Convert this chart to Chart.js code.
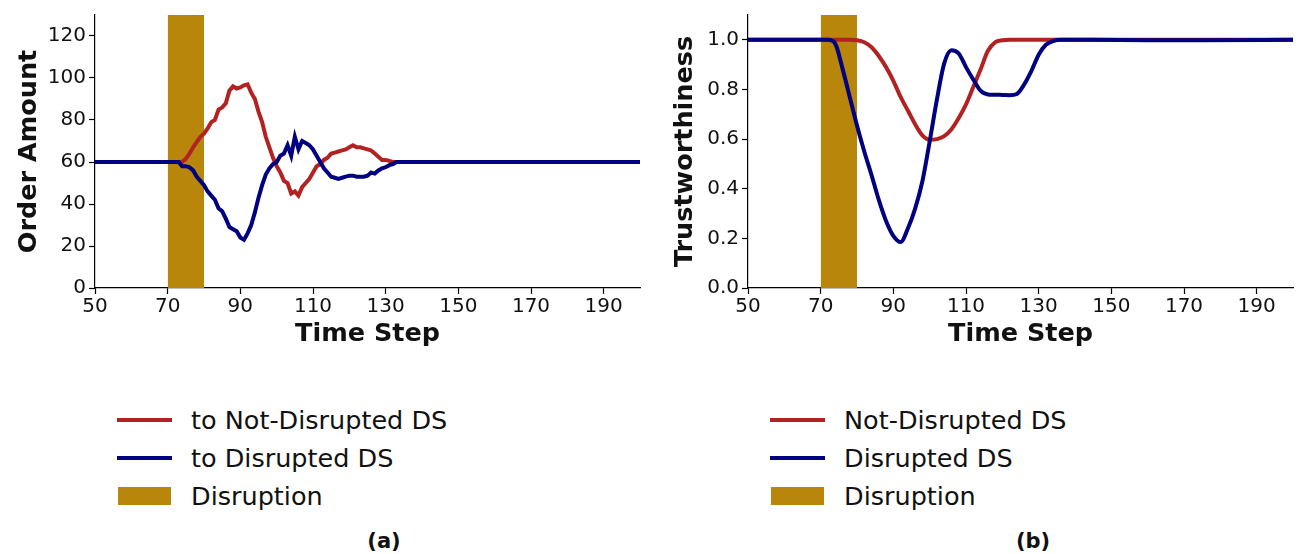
<!DOCTYPE html>
<html>
<head>
<meta charset="utf-8">
<script src="https://cdn.jsdelivr.net/npm/chart.js@4"></script>
<style>
  body { margin: 0; background: #fff; width: 1299px; height: 554px; position: relative; overflow: hidden; font-family: "DejaVu Sans", sans-serif; }
  .box { position: absolute; top: 0; height: 360px; }
  #boxA { left: 0; width: 650px; }
  #boxB { left: 650px; width: 649px; }
  .legend { position: absolute; top: 401px; font-size: 25.5px; color: #111; }
  .legend .row { height: 38px; display: flex; align-items: center; }
  .caption { position: absolute; top: 529px; font-weight: bold; font-size: 21px; transform: translateX(-50%); color: #111; }
</style>
</head>
<body>
<div class="box" id="boxA"><canvas id="chartA"></canvas></div>
<div class="box" id="boxB"><canvas id="chartB"></canvas></div>
<div class="legend" id="legendA" style="left:117px"></div>
<div class="legend" id="legendB" style="left:770px"></div>
<div class="caption" style="left:384px">(a)</div>
<div class="caption" style="left:1033px">(b)</div>
<script>
// (a) order amounts
const orderSteps = [50, 72, 73, 74, 75, 76, 77, 78, 79, 80, 81, 82, 83, 84, 85, 86, 87, 88, 89, 90, 91,
  92, 93, 94, 95, 96, 97, 98, 99, 100, 101, 102, 103, 104, 105, 106, 107, 108, 109, 110, 111,
  112, 113, 114, 115, 116, 117, 118, 119, 120, 121, 122, 123, 124, 125, 126, 127, 128, 129, 130, 131,
  132, 133, 134, 200];
const orderNotDisrupted = [60, 60, 60, 60, 61.5, 64, 67, 69.5, 72, 73.5, 76, 79, 80, 85, 86, 88, 94, 96, 95, 95.5, 96.5,
  97, 93, 90, 84, 79, 72, 67, 62, 58, 55, 51, 50, 45, 46, 44, 48, 50, 52, 55, 58,
  59, 61, 62, 64, 64.5, 65, 65.5, 66, 67, 68, 67, 67, 66.5, 66, 65.5, 64, 62.5, 61, 61, 60.5,
  60, 60, 60, 60];
const orderDisrupted = [60, 60, 60, 58, 58, 57.5, 56, 53, 51, 49, 46, 44, 42, 38, 36.5, 33, 29, 28, 27, 24, 23,
  26, 30, 36, 43, 49, 54, 57, 59, 60, 63, 64, 68, 63, 72, 66, 70, 69, 68, 66, 63,
  60, 57, 55, 53, 52.5, 52, 52.5, 53, 53.5, 53.5, 53, 53, 53, 53.5, 55, 54.5, 56, 57, 57.5, 58.5,
  59, 60, 60, 60];

// (b) trustworthiness
const trustSteps = [50, 72, 74, 76, 78, 80, 82, 84, 86, 88, 90, 92, 94, 96, 98, 100, 102, 104, 106, 108, 110,
  112, 114, 116, 118, 120, 122, 124, 126, 128, 130, 132, 134, 136, 138, 145, 160, 175, 200];
const trustNotDisrupted = [1, 1, 1, 1, 1, 0.998, 0.99, 0.97, 0.935, 0.89, 0.835, 0.77, 0.715, 0.66, 0.615, 0.597, 0.6, 0.612, 0.64, 0.685, 0.74,
  0.81, 0.88, 0.955, 0.99, 0.998, 1, 1, 1, 1, 1, 1, 1, 1, 1, 1, 1, 1, 1];
const trustDisrupted = [1, 1, 0.985, 0.885, 0.77, 0.655, 0.55, 0.455, 0.355, 0.27, 0.21, 0.185, 0.24, 0.32, 0.43, 0.59, 0.76, 0.905, 0.958, 0.945, 0.89,
  0.84, 0.795, 0.78, 0.779, 0.778, 0.777, 0.782, 0.82, 0.875, 0.94, 0.98, 0.995, 1, 1, 1, 0.998, 0.998, 1];

const disruption = [70, 80];
const xTicks = [50, 70, 90, 110, 130, 150, 170, 190];

const RED = "#b22222", BLUE = "#000080", GOLD = "#b8860b";

function pts(xs, ys) {
  return xs.map((x, i) => ({ x: x, y: ys[i] }));
}

function lineSet(label, xs, ys, color, order, smooth) {
  return {
    label: label,
    data: pts(xs, ys),
    borderColor: color,
    backgroundColor: color,
    borderWidth: 4,
    pointRadius: 0,
    tension: 0,
    cubicInterpolationMode: smooth ? "monotone" : "default",
    fill: false,
    order: order,
  };
}

function bandSet(top) {
  return {
    label: "Disruption",
    isBand: true,
    data: [{ x: disruption[0], y: top }, { x: disruption[1], y: top }],
    borderWidth: 0,
    borderColor: GOLD,
    backgroundColor: GOLD,
    pointRadius: 0,
    fill: "start",
    order: 5,
  };
}

function makeOptions(yMax, yStep, yTitle, yWidth, titlePad, padRight, fmt) {
  const axisGrid = { drawOnChartArea: false, drawTicks: true, tickLength: 6, color: "#000", tickWidth: 1.2 };
  return {
    responsive: true,
    maintainAspectRatio: false,
    animation: false,
    layout: { padding: { top: 15, right: padRight, left: 0, bottom: 0 } },
    plugins: { legend: { display: false }, tooltip: { enabled: false } },
    scales: {
      x: {
        type: "linear",
        min: 50,
        max: 200,
        afterFit: (s) => { s.height = 72; },
        afterBuildTicks: (s) => { s.ticks = xTicks.map((v) => ({ value: v })); },
        border: { color: "#000", width: 1.2 },
        grid: axisGrid,
        ticks: { color: "#111", font: { family: "DejaVu Sans", size: 20 }, padding: 1, maxRotation: 0 },
        title: { display: true, text: "Time Step", color: "#111", font: { family: "DejaVu Sans", size: 25.5, weight: "bold" }, padding: { top: 0, bottom: 10 } },
      },
      y: {
        min: 0,
        max: yMax,
        afterFit: (s) => { s.width = yWidth; },
        border: { color: "#000", width: 1.2 },
        grid: axisGrid,
        ticks: { stepSize: yStep, includeBounds: false, color: "#111", font: { family: "DejaVu Sans", size: 20 }, padding: 3, callback: fmt },
        title: { display: true, text: yTitle, color: "#111", font: { family: "DejaVu Sans", size: 25.5, weight: "bold" }, padding: { top: titlePad, bottom: 0 } },
      },
    },
  };
}

function buildLegend(chart, el) {
  // legend rows follow the order of datasets in the chart
  chart.data.datasets.forEach((ds) => {
    const row = document.createElement("div");
    row.className = "row";
    const sw = document.createElement("span");
    sw.style.display = "inline-block";
    if (ds.isBand) {
      sw.style.width = "53px";
      sw.style.height = "18px";
      sw.style.marginLeft = "1px";
      sw.style.marginRight = "20px";
      sw.style.background = ds.backgroundColor;
    } else {
      sw.style.width = "55px";
      sw.style.height = "4px";
      sw.style.marginRight = "19px";
      sw.style.background = ds.borderColor;
    }
    row.appendChild(sw);
    row.appendChild(document.createTextNode(ds.label));
    el.appendChild(row);
  });
}

const chartA = new Chart(document.getElementById("chartA"), {
  type: "line",
  data: {
    datasets: [
      lineSet("to Not-Disrupted DS", orderSteps, orderNotDisrupted, RED, 2, false),
      lineSet("to Disrupted DS", orderSteps, orderDisrupted, BLUE, 1, false),
      bandSet(130),
    ],
  },
  options: makeOptions(130, 20, "Order Amount", 95, 14, 10, (v) => v),
});

const chartB = new Chart(document.getElementById("chartB"), {
  type: "line",
  data: {
    datasets: [
      lineSet("Not-Disrupted DS", trustSteps, trustNotDisrupted, RED, 2, true),
      lineSet("Disrupted DS", trustSteps, trustDisrupted, BLUE, 1, true),
      bandSet(1.1),
    ],
  },
  options: makeOptions(1.1, 0.2, "Trustworthiness", 98, 20, 6, (v) => Number(v).toFixed(1)),
});

buildLegend(chartA, document.getElementById("legendA"));
buildLegend(chartB, document.getElementById("legendB"));
</script>
</body>
</html>
